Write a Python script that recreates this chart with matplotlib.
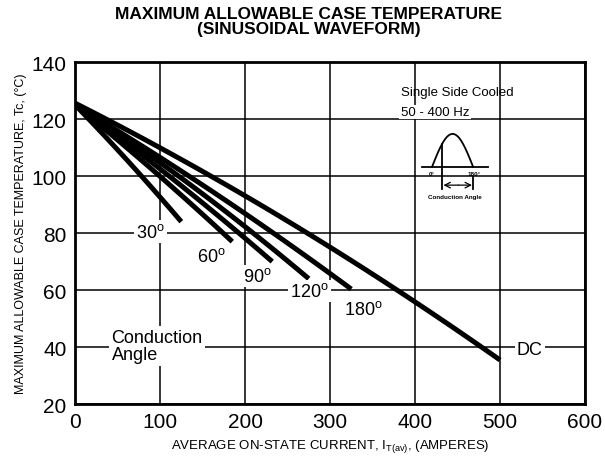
import numpy as np
import matplotlib
matplotlib.use("Agg")
import matplotlib.pyplot as plt

plt.rcParams['font.family'] = ['Liberation Sans', 'DejaVu Sans']
plt.rcParams['mathtext.fontset'] = 'custom'
plt.rcParams['mathtext.rm'] = 'Liberation Sans'
plt.rcParams['mathtext.it'] = 'Liberation Sans'

# curve data (current A, case temp C)
x_30 = [0, 60, 125]
y_30 = [125, 106, 84]
x_60 = [0, 90, 185]
y_60 = [125, 102.5, 77]
x_90 = [0, 115, 232]
y_90 = [125, 99, 70]
x_120 = [0, 140, 275]
y_120 = [125, 96, 64]
x_180 = [0, 160, 265, 325]
y_180 = [125, 94.5, 74, 60]
x_dc = [0, 100, 200, 300, 400, 500]
y_dc = [125, 111, 93, 75, 55, 36]

curves = [(x_30, y_30), (x_60, y_60), (x_90, y_90),
          (x_120, y_120), (x_180, y_180), (x_dc, y_dc)]
labels = ['30$^\\mathrm{o}$', '60$^\\mathrm{o}$', '90$^\\mathrm{o}$',
          '120$^\\mathrm{o}$', '180$^\\mathrm{o}$', 'DC']
label_pos = [(89, 80.5), (160, 72), (214, 65), (276, 59.6), (339, 53.3), (535, 39.3)]

xticks = [0, 100, 200, 300, 400, 500, 600]
yticks = [20, 40, 60, 80, 100, 120, 140]

fig = plt.figure(figsize=(6.05, 4.64), dpi=100)
ax = fig.add_axes([0.124, 0.127, 0.843, 0.737])

for xs, ys in curves:
    xs = np.array(xs, float)
    ys = np.array(ys, float)
    # smooth curve through the read points
    coef = np.polyfit(xs, ys, min(2, len(xs) - 1))
    xx = np.linspace(xs[0], xs[-1], 100)
    ax.plot(xx, np.polyval(coef, xx), color='black', lw=3.6, solid_capstyle='butt', zorder=3)

for lab, (lx, ly) in zip(labels, label_pos):
    ax.text(lx, ly, lab, fontsize=13, ha='center', va='center', zorder=4,
            bbox=dict(facecolor='white', edgecolor='none', pad=1.5))

ax.text(43, 40.4, 'Conduction\nAngle', fontsize=13, ha='left', va='center',
        linespacing=1.0, zorder=4, bbox=dict(facecolor='white', edgecolor='none', pad=2))

ax.text(383, 129.5, 'Single Side Cooled', fontsize=9.5, ha='left', va='center', zorder=4)
ax.text(383, 122.5, '50 - 400 Hz', fontsize=9.5, ha='left', va='center', zorder=4,
        bbox=dict(facecolor='white', edgecolor='none', pad=1))

ax.set_xlim(0, 600)
ax.set_ylim(20, 140)
ax.set_xticks(xticks)
ax.set_yticks(yticks)
ax.tick_params(labelsize=15, length=0, pad=6)
ax.grid(True, color='black', lw=1.1)
ax.set_axisbelow(True)
for s in ax.spines.values():
    s.set_linewidth(2)

ax.set_xlabel(r'AVERAGE ON-STATE CURRENT, I$_{T(av)}$, (AMPERES)', fontsize=9.5, labelpad=4)
ax.set_ylabel('MAXIMUM ALLOWABLE CASE TEMPERATURE, Tc, (°C)', fontsize=9, labelpad=3)
fig.text(0.51, 0.953, 'MAXIMUM ALLOWABLE CASE TEMPERATURE\n(SINUSOIDAL WAVEFORM)',
         fontsize=12.5, fontweight='bold', ha='center', va='center', linespacing=1.0)

# small waveform sketch
ins = fig.add_axes([0.6914, 0.5668, 0.1322, 0.1638])
ins.set_xlim(-60, 290)
ins.set_ylim(-1, 1.3)
ins.axis('off')
th = np.linspace(0, 180, 100)
ins.plot(th, np.sin(np.radians(th)), color='black', lw=1.3)
ins.plot([-44, 246], [0, 0], color='black', lw=1.3)
fire = 45
ins.plot([fire, fire], [-0.67, np.sin(np.radians(fire))], color='black', lw=1.3)
ins.plot([180, 180], [-0.3, -0.67], color='black', lw=1.3)
ins.annotate('', xy=(fire + 5, -0.55), xytext=(115, -0.55),
             arrowprops=dict(arrowstyle='->', lw=0.9, color='black', shrinkA=0, shrinkB=0))
ins.annotate('', xy=(175, -0.55), xytext=(115, -0.55),
             arrowprops=dict(arrowstyle='->', lw=0.9, color='black', shrinkA=0, shrinkB=0))
ins.text(0, -0.2, '0°', fontsize=4.5, ha='center', va='center', fontweight='bold')
ins.text(185, -0.2, '180°', fontsize=4.5, ha='center', va='center', fontweight='bold')
ins.text(101, -0.88, 'Conduction Angle', fontsize=4.5, ha='center', va='center', fontweight='bold')

fig.savefig('out.png', dpi=100)
